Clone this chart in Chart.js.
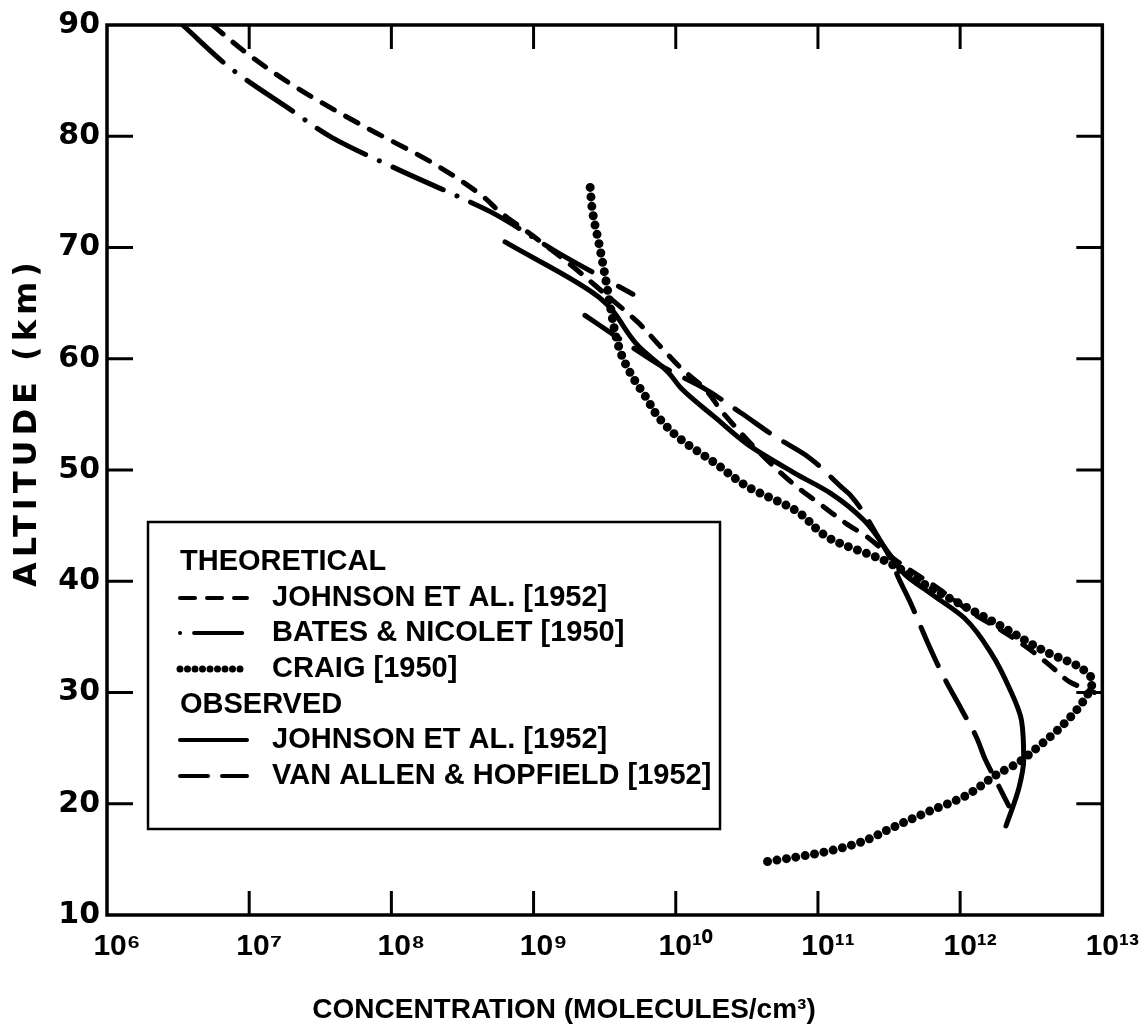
<!DOCTYPE html>
<html><head><meta charset="utf-8">
<script src="https://cdn.jsdelivr.net/npm/chart.js@4.4.0/dist/chart.umd.min.js"></script>
<style>html,body{margin:0;padding:0;background:#fff}#wrap{width:1143px;height:1036px}</style>
</head><body><div id="wrap"><canvas id="c" width="1143" height="1036"></canvas></div>
<script>
// ---------- data (altitude km, concentration molecules/cm^3) ----------
const altTheoJohnson  = [90.0, 87.3, 84.3, 80.8, 77.6, 74.6, 73.2, 71.0, 68.5, 65.8, 63.2, 61.1, 59.1, 57.3, 55.3, 52.5, 50.0, 48.5, 46.8, 45.0, 44.2, 41.8, 39.3, 37.2, 35.5, 33.6, 31.9, 30.9, 30.0];
const concTheoJohnson = [5.5e6, 1.0e7, 2.2e7, 6.6e7, 1.95e8, 4.4e8, 5.8e8, 1.0e9, 1.8e9, 3.2e9, 5.5e9, 7.8e9, 1.1e10, 1.6e10, 2.1e10, 3.3e10, 5.2e10, 7.1e10, 1.07e11, 1.66e11, 2.1e11, 3.6e11, 7.1e11, 1.2e12, 2.0e12, 3.3e12, 4.8e12, 6.0e12, 8.8e12];

const altBates  = [90.0, 86.0, 82.3, 79.9, 77.0, 74.3, 73.2, 69.5, 65.8];
const concBates = [3.4e6, 7.6e6, 2.0e7, 3.8e7, 1.12e8, 3.3e8, 5.0e8, 1.5e9, 5.0e9];

const altCraig  = [75.4, 73.2, 70.2, 67.3, 64.4, 62.0, 60.2, 58.5, 56.5, 54.7, 52.9, 50.6, 48.5, 46.4, 43.8, 41.8, 39.4, 36.2, 33.6, 32.3, 31.0, 29.5, 27.0, 24.8, 23.6, 22.7, 20.6, 19.3, 17.9, 16.5, 15.7, 15.2, 14.8];
const concCraig = [2.5e9, 2.6e9, 2.9e9, 3.2e9, 3.5e9, 3.8e9, 4.2e9, 4.9e9, 6.2e9, 7.6e9, 1.05e10, 1.9e10, 3.2e10, 6.9e10, 1.23e11, 3.0e11, 6.2e11, 1.8e12, 4.1e12, 6.9e12, 8.5e12, 7.6e12, 5.2e12, 3.3e12, 2.5e12, 1.85e12, 1.05e12, 6.0e11, 3.4e11, 1.95e11, 1.15e11, 7.0e10, 4.4e10];

const altObsJohnson  = [70.5, 65.5, 61.1, 58.75, 57.3, 54.7, 52.3, 49.7, 47.9, 45.5, 42.4, 40.6, 38.9, 36.7, 33.5, 30.5, 27.5, 24.0, 21.5, 18.0];
const concObsJohnson = [6.3e8, 2.9e9, 5.5e9, 8.9e9, 1.1e10, 1.9e10, 3.2e10, 6.9e10, 1.23e11, 2.1e11, 3.2e11, 4.1e11, 6.2e11, 1.07e12, 1.66e12, 2.2e12, 2.7e12, 2.8e12, 2.6e12, 2.1e12];

const altVanAllen  = [63.9, 61.3, 59.2, 57.4, 55.1, 53.0, 51.2, 48.5, 47.7, 43.8, 41.5, 40.6, 38.0, 34.5, 31.5, 28.5, 26.0, 24.0, 22.0, 19.8];
const concVanAllen = [2.3e9, 4.6e9, 8.3e9, 1.55e10, 2.9e10, 5.0e10, 8.5e10, 1.45e11, 1.7e11, 2.7e11, 3.4e11, 3.6e11, 4.5e11, 5.9e11, 7.6e11, 1.02e12, 1.3e12, 1.5e12, 1.8e12, 2.2e12];

// ---------- ticks / text ----------
const xTickExponents = [6, 7, 8, 9, 10, 11, 12, 13];
const xTickLabels = ['10\u2076', '10\u2077', '10\u2078', '10\u2079', '10\u00b9\u2070', '10\u00b9\u00b9', '10\u00b9\u00b2', '10\u00b9\u00b3'];
const yTickValues = [10, 20, 30, 40, 50, 60, 70, 80, 90];
const seriesNames = ['JOHNSON ET AL. [1952]', 'BATES & NICOLET [1950]', 'CRAIG [1950]', 'JOHNSON ET AL. [1952]', 'VAN ALLEN & HOPFIELD [1952]'];
const legendHeaders = ['THEORETICAL', 'OBSERVED'];
const xTitle = 'CONCENTRATION (MOLECULES/cm\u00b3)';
const yTitle = 'ALTITUDE (km)';

const pts = (c, a) => c.map((v, i) => ({x: v, y: a[i]}));

const styles = [
  {borderDash: [14, 13], borderWidth: 5},
  {borderDash: [55, 15, 0.1, 15], borderWidth: 5},
  {borderDash: [0, 9.5], borderWidth: 9},
  {borderDash: [], borderWidth: 5},
  {borderDash: [42, 17], borderWidth: 5}
];
const seriesData = [
  pts(concTheoJohnson, altTheoJohnson),
  pts(concBates, altBates),
  pts(concCraig, altCraig),
  pts(concObsJohnson, altObsJohnson),
  pts(concVanAllen, altVanAllen)
];

const datasets = seriesData.map((d, i) => ({
  label: seriesNames[i],
  data: d,
  borderColor: '#000',
  backgroundColor: '#000',
  borderWidth: styles[i].borderWidth,
  borderDash: styles[i].borderDash,
  borderCapStyle: 'round',
  borderJoinStyle: 'round',
  pointRadius: 0,
  fill: false,
  cubicInterpolationMode: 'monotone'
}));

const decor = {
  id: 'decor',
  afterDatasetsDraw(chart) {
    const {ctx, chartArea: a, scales: {x, y}} = chart;
    const line = (x1, y1, x2, y2) => { ctx.beginPath(); ctx.moveTo(x1, y1); ctx.lineTo(x2, y2); ctx.stroke(); };
    ctx.save();
    ctx.strokeStyle = '#000';
    ctx.fillStyle = '#000';
    ctx.lineCap = 'butt';
    ctx.setLineDash([]);
    // inward tick marks on all four sides
    ctx.lineWidth = 3;
    xTickExponents.slice(1, -1).forEach(e => {
      const px = x.getPixelForValue(Math.pow(10, e));
      line(px, a.bottom, px, a.bottom - 24);
      line(px, a.top, px, a.top + 24);
    });
    yTickValues.slice(1, -1).forEach(v => {
      const py = y.getPixelForValue(v);
      line(a.left, py, a.left + 26, py);
      line(a.right, py, a.right - 26, py);
    });
    // frame
    ctx.lineWidth = 3.5;
    ctx.strokeRect(a.left, a.top, a.right - a.left, a.bottom - a.top);

    // legend box
    const bx = 148, by = 522, bw = 572, bh = 307;
    ctx.fillStyle = '#fff';
    ctx.fillRect(bx, by, bw, bh);
    ctx.lineWidth = 2.5;
    ctx.strokeRect(bx, by, bw, bh);
    ctx.fillStyle = '#000';
    ctx.font = 'bold 29px "Liberation Sans", Arial, sans-serif';
    ctx.textBaseline = 'middle';
    ctx.textAlign = 'left';
    const rows = [562, 598, 633, 669, 705, 740, 776];
    ctx.fillText(legendHeaders[0], 180, rows[0]);
    ctx.fillText(legendHeaders[1], 180, rows[4]);
    const itemRows = [rows[1], rows[2], rows[3], rows[5], rows[6]];
    const sampleDash = [[15, 12], [0.1, 14, 48, 0], [0, 7.5], [], [28, 14]];
    const sampleW = [4, 4, 7, 4, 4];
    itemRows.forEach((ry, i) => {
      ctx.save();
      ctx.lineCap = 'round';
      ctx.lineWidth = sampleW[i];
      ctx.setLineDash(sampleDash[i]);
      line(180, ry, 247, ry);
      ctx.restore();
      ctx.fillText(seriesNames[i], 272, ry);
    });

    // axis titles
    ctx.font = 'bold 28px "Liberation Sans", Arial, sans-serif';
    ctx.textAlign = 'center';
    ctx.fillText(xTitle, 564, 1010);
    ctx.save();
    ctx.translate(28, 422);
    ctx.rotate(-Math.PI / 2);
    ctx.font = 'bold 32px "DejaVu Sans", sans-serif';
    if ('letterSpacing' in ctx) ctx.letterSpacing = '5px';
    ctx.fillText(yTitle, 0, 0);
    ctx.restore();
    ctx.restore();
  }
};

new Chart(document.getElementById('c'), {
  type: 'line',
  data: {datasets},
  options: {
    responsive: false,
    animation: false,
    devicePixelRatio: 1,
    indexAxis: 'y',
    layout: {padding: {top: 22, right: 38, left: 0, bottom: 0}},
    plugins: {legend: {display: false}, tooltip: {enabled: false}, title: {display: false}},
    scales: {
      x: {
        type: 'logarithmic',
        position: 'bottom',
        min: 1e6, max: 1e13,
        afterBuildTicks: s => { s.ticks = xTickExponents.map(e => ({value: Math.pow(10, e)})); },
        afterFit: s => { s.height = 121; },
        grid: {display: false, drawTicks: false},
        border: {display: false},
        ticks: {
          autoSkip: false, maxRotation: 0, padding: 14, labelOffset: 10,
          color: '#000',
          font: {family: '"Liberation Sans", Arial, sans-serif', size: 30, weight: 'bold'},
          callback: (v) => { const i = xTickExponents.indexOf(Math.round(Math.log10(v))); return i >= 0 ? xTickLabels[i] : ''; }
        }
      },
      y: {
        type: 'linear',
        min: 10, max: 90,
        afterBuildTicks: s => { s.ticks = yTickValues.map(v => ({value: v})); },
        afterFit: s => { s.width = 107; },
        grid: {display: false, drawTicks: false},
        border: {display: false},
        ticks: {
          padding: 7, color: '#000',
          font: {family: '"DejaVu Sans", sans-serif', size: 30, weight: 'bold'}
        }
      }
    }
  },
  plugins: [decor]
});
</script>
</body></html>
